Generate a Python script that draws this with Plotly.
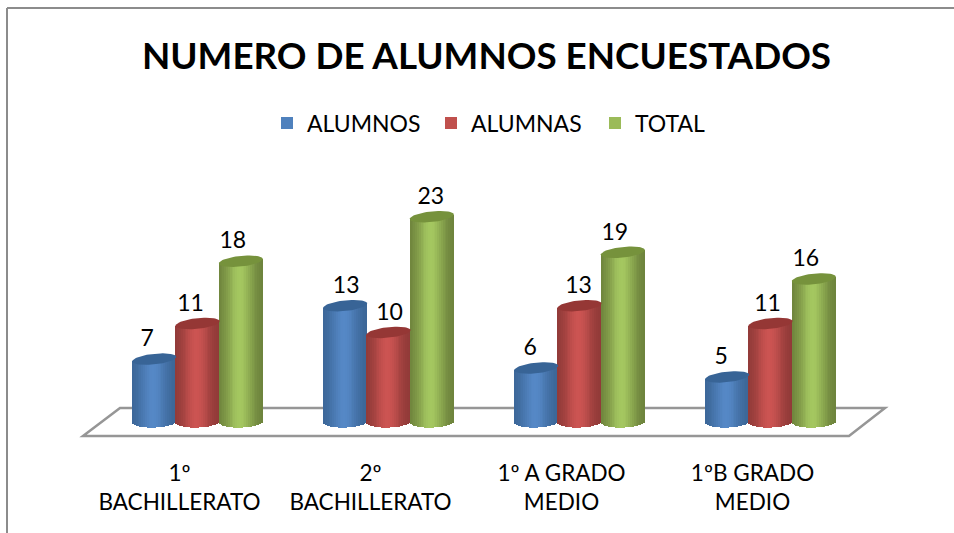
import numpy as np
import plotly.graph_objects as go

TITLE = "NUMERO DE ALUMNOS ENCUESTADOS"
CATEGORIES = ["1º<br>BACHILLERATO", "2º<br>BACHILLERATO", "1º A GRADO<br>MEDIO", "1ºB GRADO<br>MEDIO"]
ALUMNOS = [7, 13, 6, 5]
ALUMNAS = [11, 10, 13, 11]
TOTAL = [18, 23, 19, 16]

# styling
W, H = 954, 533
PLOT_BOTTOM = 455
PX_X = 191.0            # px per category
X0 = 197.5              # px of first category centre
PX_Y = 8.9              # px per unit
ZERO = 421.4            # px of value 0
FONT = "Lato"
SERIES = [
    ("ALUMNOS", ALUMNOS, "#4F81BD", (58, 100, 148), (85, 136, 198), "#386496", -1),
    ("ALUMNAS", ALUMNAS, "#C0504D", (140, 56, 54), (204, 84, 82), "#953735", 0),
    ("TOTAL", TOTAL, "#9BBB59", (106, 127, 58), (164, 199, 96), "#76923C", 1),
]
LABEL_NUDGE_PX = [[-7, 1, -6, -6], [-7, 1, -1, -3], [-8, -1, -8, -8]]
TICK_SHIFT_PX = -18
N = 24
BAR_W = 44 / PX_X
STEP = 43.3 / PX_X
RY_TOP, RY_BASE, TILT = 5.3 / PX_Y, 6.2 / PX_Y, 2.2 / PX_Y
LABEL_LIFT = 18.5 / PX_Y

fig = go.Figure()
xs = np.arange(len(CATEGORIES), dtype=float)
t = np.linspace(0, 2 * np.pi, 60)
for s, (name, vals, col, edge, mid, top, pos) in enumerate(SERIES):
    vals = np.array(vals, dtype=float)
    cx = xs + pos * STEP
    for k in range(N):
        u = (k + 0.5) / N * 2 - 1
        shade = np.exp(-(((u + 0.05) / 0.62) ** 2))
        rgb = [round(e + (m - e) * shade) for e, m in zip(edge, mid)]
        base = -RY_BASE * np.sqrt(1 - u * u) + TILT * u * 0.3
        fig.add_trace(go.Bar(
            x=cx + u * BAR_W / 2, y=vals + TILT * u - base, base=base,
            width=BAR_W / N * 1.12, marker=dict(color=f"rgb({rgb[0]},{rgb[1]},{rgb[2]})", line_width=0),
            showlegend=False, hoverinfo="skip"))
    for c, v in zip(cx, vals):
        fig.add_trace(go.Scatter(
            x=c + BAR_W / 2 * np.cos(t), y=v + RY_TOP * np.sin(t) + TILT * np.cos(t),
            mode="lines", line_width=0, fill="toself", fillcolor=top,
            showlegend=False, hoverinfo="skip"))

for s, (name, vals, col, edge, mid, top, pos) in enumerate(SERIES):
    fig.add_trace(go.Scatter(
        x=xs + pos * STEP + np.array(LABEL_NUDGE_PX[s]) / PX_X,
        y=np.array(vals, dtype=float) + LABEL_LIFT,
        mode="text", text=[str(v) for v in vals], textposition="middle center",
        textfont=dict(family=FONT, size=23, color="black"),
        showlegend=False, hoverinfo="skip"))
    fig.add_trace(go.Scatter(
        x=[None], y=[None], mode="markers", name=name,
        marker=dict(symbol="square", size=16, color=col)))

def px(x): return x / W
def py(y): return (PLOT_BOTTOM - y) / PLOT_BOTTOM

shapes = [
    dict(type="path", xref="paper", yref="paper", layer="below",
         path=f"M {px(83)} {py(436)} L {px(120)} {py(408)} L {px(885)} {py(408)} L {px(849)} {py(436)} Z",
         line=dict(color="#969696", width=2.5), fillcolor="white"),
    dict(type="line", xref="paper", yref="paper", layer="below",
         x0=px(7), x1=px(7), y0=py(8), y1=py(533), line=dict(color="#8c8c8c", width=2)),
    dict(type="line", xref="paper", yref="paper", layer="below",
         x0=px(7), x1=px(954), y0=py(8), y1=py(8), line=dict(color="#8c8c8c", width=2)),
]

fig.update_layout(
    width=W, height=H, barmode="overlay", bargap=0,
    margin=dict(l=0, r=0, t=0, b=H - PLOT_BOTTOM, autoexpand=False),
    paper_bgcolor="white", plot_bgcolor="rgba(0,0,0,0)",
    title=dict(text=f"<b>{TITLE}</b>", x=486.5 / W, xanchor="center", y=1 - 56 / H, yanchor="middle",
               font=dict(family=FONT, size=36.8, color="black")),
    legend=dict(orientation="h", x=267 / W, xanchor="left", y=py(123), yanchor="middle",
                font=dict(family=FONT, size=23, color="black"), bgcolor="rgba(0,0,0,0)",
                itemsizing="constant", traceorder="normal", entrywidth=119, entrywidthmode="pixels"),
    xaxis=dict(range=[-X0 / PX_X, (W - X0) / PX_X], tickmode="array",
               tickvals=list(xs + TICK_SHIFT_PX / PX_X), ticktext=CATEGORIES,
               showgrid=False, zeroline=False, showline=False, ticks="", ticklabelstandoff=2,
               tickfont=dict(family=FONT, size=22.5, color="black")),
    yaxis=dict(range=[(ZERO - PLOT_BOTTOM) / PX_Y, ZERO / PX_Y], visible=False, showgrid=False, zeroline=False),
    shapes=shapes,
)
fig.write_html("out.html", config={"displayModeBar": False},
               post_script="document.body.style.margin='0';window.dispatchEvent(new Event('resize'));")
